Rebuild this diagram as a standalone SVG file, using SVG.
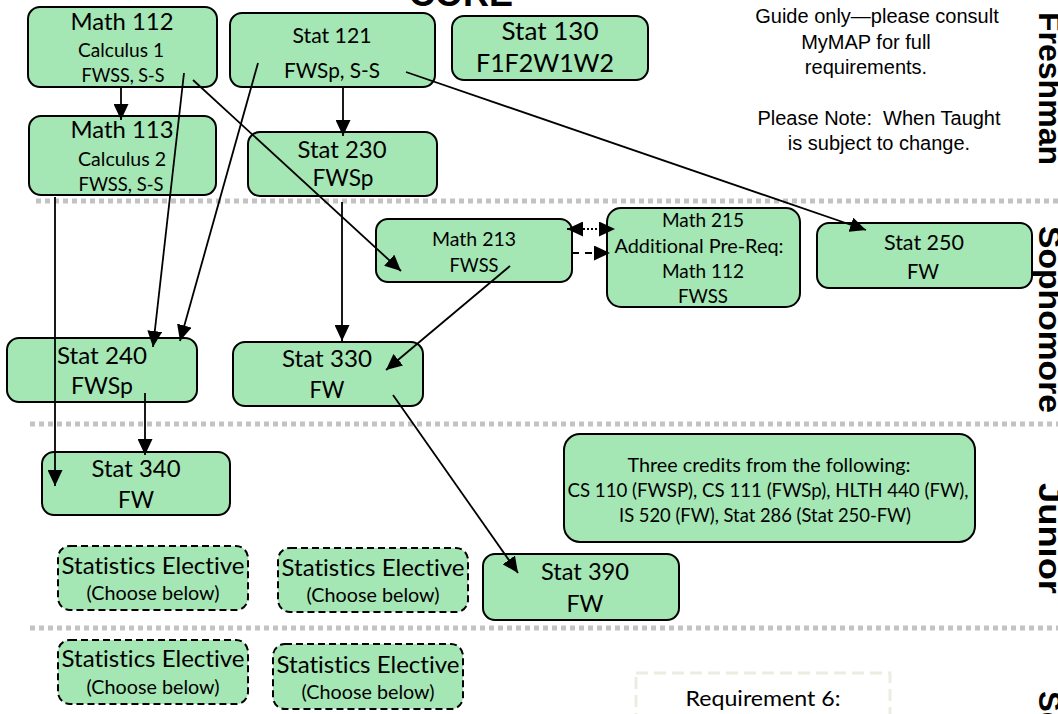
<svg xmlns="http://www.w3.org/2000/svg" width="1058" height="714" viewBox="0 0 1058 714">
<defs>
<style>
.box{fill:#a4e6b4;stroke:#000;stroke-width:2}
.dbox{fill:#a4e6b4;stroke:#000;stroke-width:2;stroke-dasharray:7 4}
.t{font-family:Lato,"Open Sans",sans-serif;fill:#000;text-anchor:middle;font-variant-ligatures:none;font-feature-settings:"liga" 0}
.sep{stroke:#c3c3c3;stroke-width:5;stroke-dasharray:5 4;fill:none}
.c{stroke:#000;stroke-width:1.8;fill:none}
.yr{font-family:"Liberation Sans",Arial,sans-serif;font-weight:bold;font-size:31px;fill:#000}
.note{font-family:"Liberation Sans",Arial,sans-serif;font-size:20px;fill:#000;text-anchor:middle}
</style>
<marker id="ah" viewBox="0 0 16 15" refX="16" refY="7.5" markerWidth="16" markerHeight="15" markerUnits="userSpaceOnUse" orient="auto-start-reverse">
<path d="M0,0 L16,7.5 L0,15 z" fill="#000"/>
</marker>
</defs>
<rect width="1058" height="714" fill="#fff"/>

<g id="separators">
<line class="sep" x1="36" y1="201" x2="1058" y2="201"/>
<line class="sep" x1="30" y1="424" x2="1058" y2="424"/>
<line class="sep" x1="30" y1="628" x2="1058" y2="628"/>
</g>

<text x="461" y="6" style="font-family:'Liberation Sans',Arial,sans-serif;font-weight:bold;font-size:36px;text-anchor:middle">CORE</text>

<g id="notes">
<text class="note" x="877" y="23">Guide only—please consult</text>
<text class="note" x="866" y="49">MyMAP for full</text>
<text class="note" x="866" y="74">requirements.</text>
<text class="note" x="879" y="125" xml:space="preserve">Please Note:  When Taught</text>
<text class="note" x="879" y="150">is subject to change.</text>
</g>

<g id="years">
<text class="yr" transform="translate(1039,12) rotate(90)" textLength="153" lengthAdjust="spacingAndGlyphs">Freshman</text>
<text class="yr" transform="translate(1039,226) rotate(90)" textLength="187" lengthAdjust="spacingAndGlyphs">Sophomore</text>
<text class="yr" transform="translate(1039,483) rotate(90)" textLength="111" lengthAdjust="spacingAndGlyphs">Junior</text>
<text class="yr" transform="translate(1039,691) rotate(90)">Senior</text>
</g>

<g id="math112">
<rect class="box" x="28" y="7" width="189" height="80" rx="12"/>
<text class="t" x="122" y="30" font-size="23" textLength="103" lengthAdjust="spacingAndGlyphs">Math 112</text>
<text class="t" x="121" y="57" font-size="18.5" textLength="86" lengthAdjust="spacingAndGlyphs">Calculus 1</text>
<text class="t" x="123" y="82" font-size="18.5" textLength="83" lengthAdjust="spacingAndGlyphs">FWSS, S-S</text>
</g>
<g id="stat121">
<rect class="box" x="230" y="13" width="205" height="74" rx="12"/>
<text class="t" x="332" y="43" font-size="21" textLength="79" lengthAdjust="spacingAndGlyphs">Stat 121</text>
<text class="t" x="332" y="78" font-size="21" textLength="96" lengthAdjust="spacingAndGlyphs">FWSp, S-S</text>
</g>
<g id="stat130">
<rect class="box" x="452" y="16" width="196" height="64" rx="12"/>
<text class="t" x="550" y="40" font-size="25" textLength="97" lengthAdjust="spacingAndGlyphs">Stat 130</text>
<text class="t" x="545" y="72" font-size="25" textLength="138" lengthAdjust="spacingAndGlyphs">F1F2W1W2</text>
</g>
<g id="math113">
<rect class="box" x="29" y="116" width="187" height="79" rx="12"/>
<text class="t" x="122" y="138" font-size="23" textLength="103" lengthAdjust="spacingAndGlyphs">Math 113</text>
<text class="t" x="122" y="166" font-size="18.5" textLength="88" lengthAdjust="spacingAndGlyphs">Calculus 2</text>
<text class="t" x="121" y="191" font-size="18.5" textLength="85" lengthAdjust="spacingAndGlyphs">FWSS, S-S</text>
</g>
<g id="stat230">
<rect class="box" x="248" y="132" width="189" height="64" rx="12"/>
<text class="t" x="342" y="158" font-size="24" textLength="89" lengthAdjust="spacingAndGlyphs">Stat 230</text>
<text class="t" x="343" y="186" font-size="24" textLength="61" lengthAdjust="spacingAndGlyphs">FWSp</text>
</g>
<g id="math213">
<rect class="box" x="376" y="219" width="196" height="63" rx="12"/>
<text class="t" x="474" y="246" font-size="19" textLength="84" lengthAdjust="spacingAndGlyphs">Math 213</text>
<text class="t" x="474" y="272" font-size="19" textLength="49" lengthAdjust="spacingAndGlyphs">FWSS</text>
</g>
<g id="math215">
<rect class="box" x="607" y="208" width="193" height="99" rx="14"/>
<text class="t" x="703" y="227" font-size="19" textLength="82" lengthAdjust="spacingAndGlyphs">Math 215</text>
<text class="t" x="699" y="253" font-size="19" textLength="169" lengthAdjust="spacingAndGlyphs">Additional Pre-Req:</text>
<text class="t" x="703" y="278" font-size="19" textLength="82" lengthAdjust="spacingAndGlyphs">Math 112</text>
<text class="t" x="703" y="303" font-size="19" textLength="50" lengthAdjust="spacingAndGlyphs">FWSS</text>
</g>
<g id="stat250">
<rect class="box" x="817" y="223" width="215" height="65" rx="12"/>
<text class="t" x="924" y="250" font-size="21" textLength="80" lengthAdjust="spacingAndGlyphs">Stat 250</text>
<text class="t" x="923" y="279" font-size="21" textLength="32" lengthAdjust="spacingAndGlyphs">FW</text>
</g>
<g id="stat240">
<rect class="box" x="7" y="338" width="190" height="64" rx="12"/>
<text class="t" x="102" y="364" font-size="23.5" textLength="90" lengthAdjust="spacingAndGlyphs">Stat 240</text>
<text class="t" x="102" y="394" font-size="23.5" textLength="62" lengthAdjust="spacingAndGlyphs">FWSp</text>
</g>
<g id="stat330">
<rect class="box" x="233" y="342" width="190" height="64" rx="12"/>
<text class="t" x="327" y="367" font-size="23.5" textLength="90" lengthAdjust="spacingAndGlyphs">Stat 330</text>
<text class="t" x="327" y="398" font-size="23.5" textLength="35" lengthAdjust="spacingAndGlyphs">FW</text>
</g>
<g id="stat340">
<rect class="box" x="42" y="452" width="188" height="63" rx="12"/>
<text class="t" x="136" y="477" font-size="23.5" textLength="89" lengthAdjust="spacingAndGlyphs">Stat 340</text>
<text class="t" x="136" y="508" font-size="23.5" textLength="36" lengthAdjust="spacingAndGlyphs">FW</text>
</g>
<g id="threecredits">
<rect class="box" x="564" y="434" width="411" height="108" rx="16"/>
<text class="t" x="769" y="472" font-size="19" textLength="283" lengthAdjust="spacingAndGlyphs">Three credits from the following:</text>
<text class="t" x="768" y="497" font-size="19" textLength="401" lengthAdjust="spacingAndGlyphs">CS 110 (FWSP), CS 111 (FWSp), HLTH 440 (FW),</text>
<text class="t" x="765" y="522" font-size="19" textLength="292" lengthAdjust="spacingAndGlyphs">IS 520 (FW), Stat 286 (Stat 250-FW)</text>
</g>
<g id="stat390">
<rect class="box" x="483" y="554" width="196" height="66" rx="12"/>
<text class="t" x="585" y="580" font-size="23" textLength="88" lengthAdjust="spacingAndGlyphs">Stat 390</text>
<text class="t" x="585" y="612" font-size="23" textLength="37" lengthAdjust="spacingAndGlyphs">FW</text>
</g>
<g id="elective1">
<rect class="dbox" x="58" y="546" width="190" height="64" rx="12"/>
<text class="t" x="153" y="574" font-size="23" textLength="183" lengthAdjust="spacingAndGlyphs">Statistics Elective</text>
<text class="t" x="153" y="600" font-size="18.5" textLength="133" lengthAdjust="spacingAndGlyphs">(Choose below)</text>
</g>
<g id="elective2">
<rect class="dbox" x="278" y="548" width="190" height="64" rx="12"/>
<text class="t" x="373" y="576" font-size="23" textLength="183" lengthAdjust="spacingAndGlyphs">Statistics Elective</text>
<text class="t" x="373" y="602" font-size="18.5" textLength="133" lengthAdjust="spacingAndGlyphs">(Choose below)</text>
</g>
<g id="elective3">
<rect class="dbox" x="58" y="640" width="190" height="64" rx="12"/>
<text class="t" x="153" y="667" font-size="23" textLength="183" lengthAdjust="spacingAndGlyphs">Statistics Elective</text>
<text class="t" x="153" y="694" font-size="18.5" textLength="133" lengthAdjust="spacingAndGlyphs">(Choose below)</text>
</g>
<g id="elective4">
<rect class="dbox" x="273" y="644" width="190" height="65" rx="12"/>
<text class="t" x="368" y="673" font-size="23" textLength="183" lengthAdjust="spacingAndGlyphs">Statistics Elective</text>
<text class="t" x="368" y="699" font-size="18.5" textLength="133" lengthAdjust="spacingAndGlyphs">(Choose below)</text>
</g>
<g id="requirement6">
<rect x="636" y="673" width="254" height="60" fill="#fff" stroke="#eeebe0" stroke-width="3" stroke-dasharray="12 6"/>
<text class="t" x="763" y="706" font-size="21" textLength="155" lengthAdjust="spacingAndGlyphs">Requirement 6:</text>
</g>

<g id="connectors">
<path class="c" d="M121,87 L121,120" marker-end="url(#ah)"/>
<path class="c" d="M343,87 L343,136" marker-end="url(#ah)"/>
<path class="c" d="M184,73 L153,347" marker-end="url(#ah)"/>
<path class="c" d="M258,63 L180,341" marker-end="url(#ah)"/>
<path class="c" d="M193,80 L401,271" marker-end="url(#ah)"/>
<path class="c" d="M342,202 L342,341" marker-end="url(#ah)"/>
<path class="c" d="M55,197 L55,486" marker-end="url(#ah)"/>
<path class="c" d="M145,393 L145,455" marker-end="url(#ah)"/>
<path class="c" d="M510,266 L386,370" marker-end="url(#ah)"/>
<path class="c" d="M393,395 L518,573" marker-end="url(#ah)"/>
<path class="c" d="M406,72 L866,230" marker-end="url(#ah)"/>
<path class="c" d="M567,229 L615,229" stroke-dasharray="2 2" marker-start="url(#ah)" marker-end="url(#ah)"/>
<path class="c" d="M572,253 L610,253" stroke-dasharray="7 6" marker-end="url(#ah)"/>
</g>
</svg>
